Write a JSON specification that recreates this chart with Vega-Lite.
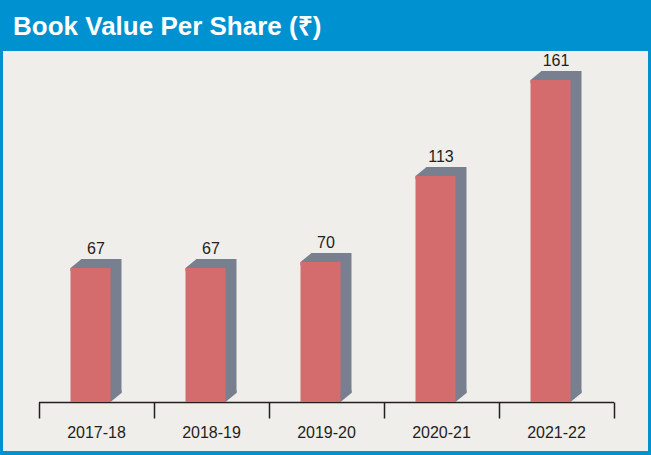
{
  "$schema": "https://vega.github.io/schema/vega-lite/v6.json",
  "width": 645,
  "height": 400,
  "autosize": {"type": "none"},
  "padding": {"left": 3, "right": 3, "top": 51, "bottom": 4},
  "background": "#0091D1",
  "title": {
    "text": "Book Value Per Share (₹)",
    "anchor": "start",
    "frame": "group",
    "orient": "top",
    "font": "Liberation Sans",
    "fontSize": 26,
    "fontWeight": "bold",
    "color": "#FFFFFF",
    "baseline": "alphabetic",
    "offset": -10,
    "dx": 10
  },
  "data": {
    "values": [
      {"year": "2017-18", "value": 67},
      {"year": "2018-19", "value": 67},
      {"year": "2019-20", "value": 70},
      {"year": "2020-21", "value": 113},
      {"year": "2021-22", "value": 161}
    ]
  },
  "encoding": {
    "x": {
      "field": "year",
      "type": "nominal",
      "sort": null,
      "scale": {"range": [35.5, 610.5], "paddingInner": 0, "paddingOuter": 0},
      "axis": {
        "title": null,
        "tickBand": "extent",
        "domainColor": "#231F20",
        "domainWidth": 1.5,
        "tickColor": "#231F20",
        "tickWidth": 1.5,
        "tickSize": 16,
        "labelFont": "Liberation Sans",
        "labelFontSize": 16,
        "labelColor": "#231F20",
        "labelAngle": 0,
        "labelBaseline": "alphabetic",
        "labelPadding": 19,
        "offset": -49,
        "grid": false
      }
    },
    "y": {
      "field": "value",
      "type": "quantitative",
      "scale": {"domain": [0, 175.5], "range": [351, 0]},
      "axis": null
    }
  },
  "layer": [
    {"mark": {"type": "bar", "size": 40, "xOffset": 5.5, "yOffset": -9, "color": "#78808F"}},
    {"mark": {"type": "point", "shape": "M-1,0.818L1,-0.818L1.5,-0.818L1.5,1.4L-1,1.4Z", "size": 121, "filled": true, "opacity": 1, "color": "#78808F", "strokeWidth": 0, "xOffset": -20, "yOffset": -4.5}},
    {"mark": {"type": "point", "shape": "M-1.5,-1.4L1,-1.4L1,-0.818L-1,0.818L-1.5,0.818Z", "size": 121, "filled": true, "opacity": 1, "color": "#78808F", "strokeWidth": 0, "xOffset": 20, "yOffset": -4.5}, "encoding": {"y": {"datum": 0}}},
    {"mark": {"type": "bar", "size": 40, "xOffset": -5.5, "color": "#D46B6D"}},
    {"mark": {"type": "text", "dy": -14, "baseline": "alphabetic", "font": "Liberation Sans", "fontSize": 16, "color": "#231F20"}, "encoding": {"text": {"field": "value", "type": "quantitative"}}}
  ],
  "config": {
    "view": {"fill": "#F0EEEB", "stroke": null}
  }
}
